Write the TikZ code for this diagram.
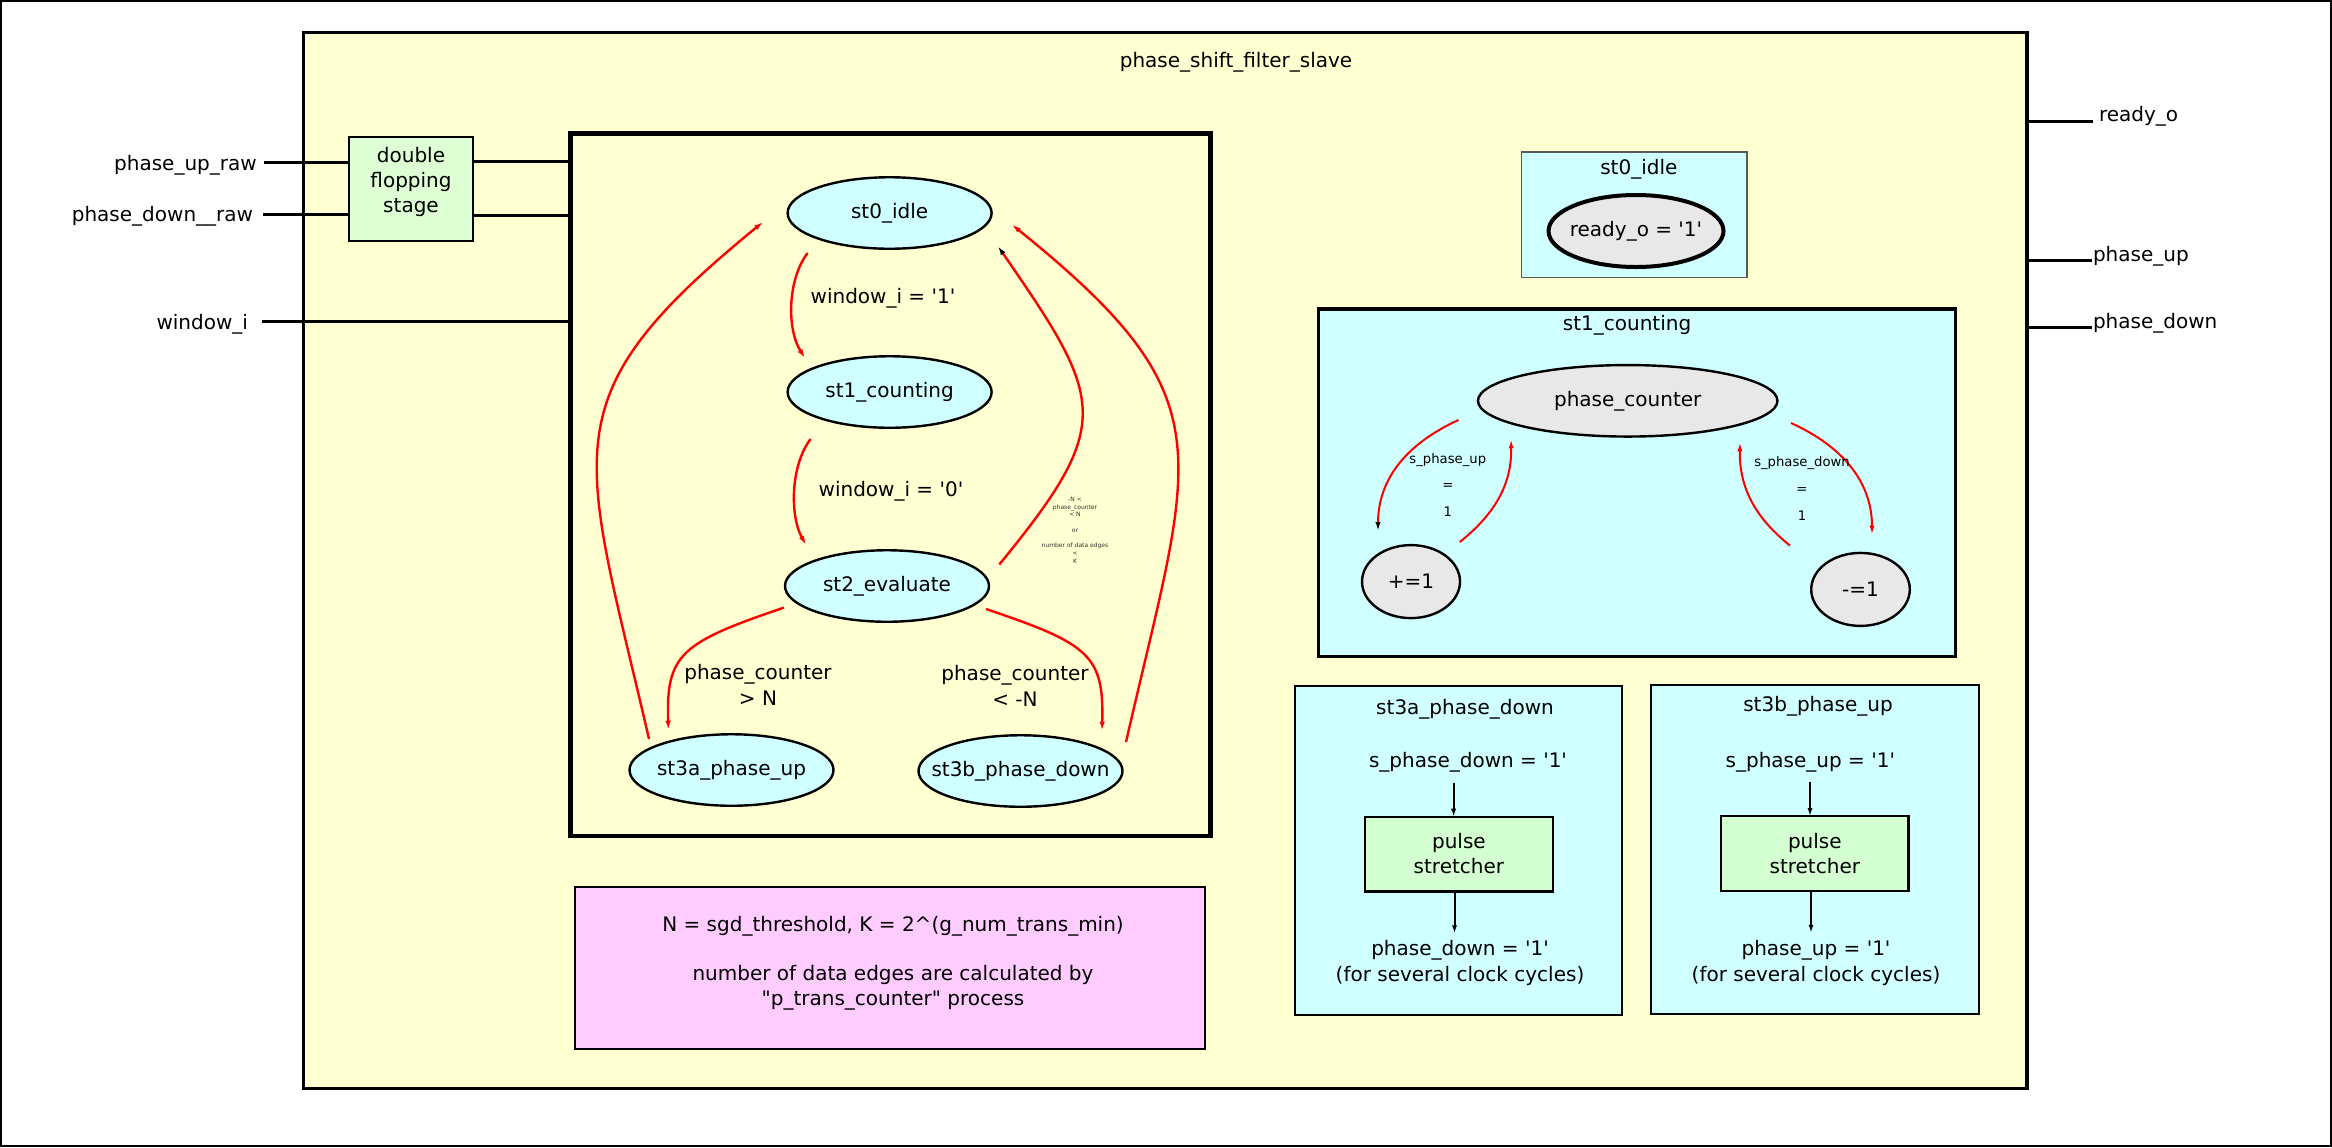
\documentclass[tikz,border=0pt]{standalone}
\usepackage{fontspec}
\setmainfont{DejaVu Sans}
\usetikzlibrary{shapes.geometric,arrows.meta,calc}
\definecolor{yel}{RGB}{255,255,210}
\definecolor{cya}{RGB}{208,255,255}
\definecolor{dfg}{RGB}{222,255,212}
\definecolor{psg}{RGB}{212,255,208}
\definecolor{pnk}{RGB}{255,204,255}
\definecolor{lgr}{RGB}{232,232,232}
\newcommand{\myq}{\textquotesingle}
\newcommand{\zerowd}[1]{\makebox[0pt]{#1}}
\begin{document}
\begin{tikzpicture}[x=0.5pt,y=-0.5pt,
  every node/.style={font=\fontsize{10}{12.5}\selectfont, inner sep=0pt, outer sep=0pt},
  box/.style={draw, rectangle, inner sep=0pt},
  fsmstate/.style={ellipse, draw, line width=1.2pt, fill=cya, minimum width=102pt, minimum height=35.75pt},
  greyell/.style={ellipse, draw, line width=1.2pt, fill=lgr},
  fsmarrow/.style={draw=red, line width=1.2pt, -{Latex[length=4.5pt,width=2.8pt]}},
  smallarrow/.style={draw=red, line width=1pt, -{Latex[length=4.5pt,width=2.6pt]}},
  blkarrow/.style={line width=1pt, -{Latex[length=4pt,width=2.6pt]}},
  wire/.style={line width=1.5pt},
]
\useasboundingbox (0,0) rectangle (2332,1147);
\draw[line width=1pt] (1,1) rectangle (2331,1146);

% main container
\node[box, fill=yel, line width=1.7pt, minimum width=861.8pt, minimum height=528pt] (main) at (1165.2,560.7) {};
\node (title) at (1236,62) {phase\_shift\_filter\_slave};

% double flopping stage
\node[box, fill=dfg, line width=1.2pt, minimum width=61.9pt, minimum height=52pt] (df) at (410.9,188.7) {};
\node[align=center] (dft) at (411,182) {double\\flopping\\stage};

% FSM box
\node[box, fill=yel, line width=2.3pt, minimum width=320pt, minimum height=351.25pt] (fsm) at (890.5,484.75) {};

% inputs
\node[anchor=base east] (lpu) at (256.7,170) {phase\_up\_raw};
\node[anchor=base east] (lpd) at (253,221) {phase\_down\_\_raw};
\node[anchor=base east] (lwi) at (248,329) {window\_i};
\coordinate (pu0) at (264,162.5);
\coordinate (pd0) at (263,214);
\coordinate (wi0) at (262,321.7);
\coordinate (dq1) at (0,161.3);
\coordinate (dq2) at (0,215);
\draw[wire] (pu0) -- (df.west |- pu0);
\draw[wire] (pd0) -- (df.west |- pd0);
\draw[wire] (wi0) -- (fsm.west |- wi0);
\draw[wire] (df.east |- dq1) -- (fsm.west |- dq1);
\draw[wire] (df.east |- dq2) -- (fsm.west |- dq2);

% outputs
\coordinate (ro) at (2093,121.7);
\coordinate (po) at (2092,260);
\coordinate (pdo) at (2092,327);
\draw[wire] (main.east |- ro) -- (ro);
\draw[wire] (main.east |- po) -- (po);
\draw[wire] (main.east |- pdo) -- (pdo);
\node[anchor=base west] (rol) at (2099,121.5) {ready\_o};
\node[anchor=base west] (pul) at (2093,261) {phase\_up};
\node[anchor=base west] (pdl) at (2093,328) {phase\_down};

% FSM states
\node[fsmstate] (s0) at (889.6,213) {\zerowd{st0\_idle}};
\node[fsmstate] (s1) at (889.6,392) {\zerowd{st1\_counting}};
\node[fsmstate] (s2) at (887,586) {\zerowd{st2\_evaluate}};
\node[fsmstate] (s3a) at (731.5,770) {\zerowd{st3a\_phase\_up}};
\node[fsmstate] (s3b) at (1020.5,771) {\zerowd{st3b\_phase\_down}};

% FSM transitions
\draw[fsmarrow] ($(s0)+(-82,40)$) .. controls +(-20.6,27) and +(-18,-28) .. ($(s1)+(-84.6,-34)$);
\draw[fsmarrow] ($(s1)+(-79,47)$) .. controls +(-20.6,27) and +(-16,-28) .. ($(s2)+(-81,-41.3)$);
\draw[fsmarrow, -{Latex[length=4.5pt,width=2.8pt,color=black]}] ($(s2)+(112.3,-21.5)$) .. controls +(115.8,-141.5) and +(106.8,154.6) .. ($(s0)+(108.4,33.3)$);
\draw[fsmarrow] ($(s3a)+(-82.5,-31)$) .. controls +(-67.5,-292.2) and +(-217,177) .. ($(s0)+(-126.6,9)$);
\draw[fsmarrow] ($(s3b)+(105.5,-29)$) .. controls +(66.9,-292.5) and +(218,175.6) .. ($(s0)+(122.4,11.7)$);
\draw[fsmarrow] ($(s2)+(-103,21.6)$) .. controls +(-104.2,35.2) and +(-2.4,-75) .. ($(s3a)+(-63.1,-40.3)$);
\draw[fsmarrow] ($(s2)+(99,23)$) .. controls +(104,35) and +(2,-75) .. ($(s3b)+(81.5,-40.4)$);

% FSM labels
\node (l01) at (883,298) {window\_i = \myq1\myq};
\node (l12) at (891,491) {window\_i = \myq0\myq};
\node[align=center, font=\fontsize{10}{12.8}\selectfont] (l23a) at (758,685) {phase\_counter\\> N};
\node[align=center, font=\fontsize{10}{12.8}\selectfont] (l23b) at (1015,686) {phase\_counter\\< -N};
\node[align=center, font=\fontsize{3}{3.85}\selectfont, text=black!80] (l20) at (1075,530) {-N <\\phase\_counter\\< N\\[3.85pt]or\\[3.85pt]number of data edges\\<\\K};

% note box
\node[box, fill=pnk, line width=1pt, minimum width=315pt, minimum height=81.2pt] (note) at (890,967.8) {};
\node (n1) at (893,926.5) {N = sgd\_threshold, K = 2\textasciicircum(g\_num\_trans\_min)};
\node[align=center, font=\fontsize{10}{12.5}\selectfont] (n2) at (893,988) {number of data edges are calculated by\\\textquotedbl p\_trans\_counter\textquotedbl{} process};

% st0_idle detail
\node[box, fill=cya, draw=black!65, line width=0.8pt, minimum width=112.7pt, minimum height=62.9pt] (b0) at (1634,214.6) {};
\node (t0) at (1638.8,169) {st0\_idle};
\node[greyell, line width=2pt, minimum width=87.5pt, minimum height=36pt] (rdy) at (1636,231) {\zerowd{ready\_o = \myq1\myq}};

% st1_counting detail
\node[box, fill=cya, line width=1.6pt, minimum width=318.6pt, minimum height=173.75pt] (b1) at (1637,482.75) {};
\node (t1) at (1627,325) {st1\_counting};
\node[greyell, minimum width=149.75pt, minimum height=35.75pt] (pc) at (1627.7,400.8) {\zerowd{phase\_counter}};
\node[greyell, minimum width=49pt, minimum height=36.5pt] (plus) at (1411,581.6) {\zerowd{+=1}};
\node[greyell, minimum width=49.3pt, minimum height=36.5pt] (minus) at (1860.5,589.4) {\zerowd{-=1}};
\draw[smallarrow, -{Latex[length=4.5pt,width=2.6pt,color=black]}] ($(pc)+(-169.3,19.2)$) .. controls +(-54.5,25) and +(0,-50) .. ($(plus)+(-33,-50.4)$);
\draw[smallarrow] ($(plus)+(48.8,-39.6)$) .. controls +(35,-28) and +(1,45) .. ($(pc)+(-116.7,38.4)$);
\draw[smallarrow] ($(minus)+(-70.5,-43.8)$) .. controls +(-35,-28) and +(-1,45) .. ($(pc)+(112.3,41.5)$);
\draw[smallarrow] ($(pc)+(163.3,22.2)$) .. controls +(55,25) and +(0,-50) .. ($(minus)+(11.5,-54.8)$);
\node[align=center, font=\fontsize{6.6}{13.35}\selectfont] (lup) at (1447.8,484.8) {s\_phase\_up\\=\\1};
\node[align=center, font=\fontsize{6.6}{13.35}\selectfont] (ldn) at (1802,488.5) {s\_phase\_down\\=\\1};

% st3a_phase_down detail
\node[box, fill=cya, line width=1.1pt, minimum width=163.65pt, minimum height=164.5pt] (b3a) at (1458.35,850.5) {};
\node (t3a) at (1465,709) {st3a\_phase\_down};
\node (sda) at (1468,762.7) {s\_phase\_down = \myq1\myq};
\node[box, fill=psg, line width=1.2pt, minimum width=93.85pt, minimum height=37.3pt, align=center] (ps1) at (1458.9,854) {pulse\\stretcher};
\node[align=center, font=\fontsize{10}{12.65}\selectfont] (pda) at (1460,963) {phase\_down = \myq1\myq\\(for several clock cycles)};
\draw[blkarrow] ($(ps1.north)+(-5.3,-34)$) -- ($(ps1.north)+(-5.3,0)$);
\draw[blkarrow] ($(ps1.south)+(-4.4,0)$) -- ($(ps1.south)+(-4.4,42)$);

% st3b_phase_up detail
\node[box, fill=cya, line width=1.1pt, minimum width=163.9pt, minimum height=164.5pt] (b3b) at (1814.9,849.5) {};
\node (t3b) at (1818,706) {st3b\_phase\_up};
\node (sub) at (1810.3,762) {s\_phase\_up = \myq1\myq};
\node[box, fill=psg, line width=1.2pt, minimum width=93.75pt, minimum height=37.35pt, align=center] (ps2) at (1814.8,853.4) {pulse\\stretcher};
\node[align=center, font=\fontsize{10}{12.65}\selectfont] (pub) at (1816,963) {phase\_up = \myq1\myq\\(for several clock cycles)};
\draw[blkarrow] ($(ps2.north)+(-4.8,-34)$) -- ($(ps2.north)+(-4.8,0)$);
\draw[blkarrow] ($(ps2.south)+(-3.8,0)$) -- ($(ps2.south)+(-3.8,42)$);
\end{tikzpicture}
\end{document}
